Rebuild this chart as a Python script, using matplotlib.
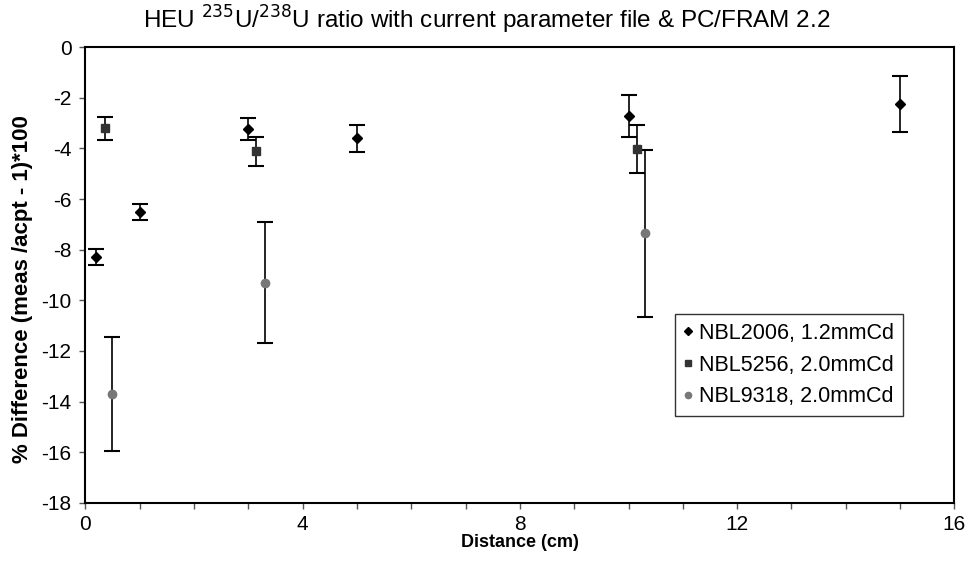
import matplotlib
matplotlib.use("Agg")
import matplotlib.pyplot as plt
from matplotlib.ticker import MultipleLocator

plt.rcParams['font.family'] = ['Liberation Sans', 'DejaVu Sans']
plt.rcParams['axes.unicode_minus'] = False

# NBL2006, 1.2mmCd
x_2006 = [0.2, 1.0, 3.0, 5.0, 10.0, 15.0]
y_2006 = [-8.3, -6.5, -3.25, -3.6, -2.72, -2.25]
e_2006 = [0.32, 0.32, 0.43, 0.53, 0.82, 1.1]

# NBL5256, 2.0mmCd
x_5256 = [0.37, 3.15, 10.15]
y_5256 = [-3.2, -4.12, -4.02]
e_5256 = [0.45, 0.58, 0.94]

# NBL9318, 2.0mmCd
x_9318 = [0.5, 3.3, 10.3]
y_9318 = [-13.7, -9.3, -7.35]
e_9318 = [2.25, 2.4, 3.3]

labels = ['NBL2006, 1.2mmCd', 'NBL5256, 2.0mmCd', 'NBL9318, 2.0mmCd']

fig = plt.figure(figsize=(9.69, 5.67), dpi=100)
ax = fig.add_axes([0.088, 0.113, 0.897, 0.804])

common = dict(linestyle='none', ecolor='black', elinewidth=1.2,
              capsize=6, capthick=1.5)
h1 = ax.errorbar(x_2006, y_2006, yerr=e_2006, marker='D', markersize=5,
                 color='black', **common)
h2 = ax.errorbar(x_5256, y_5256, yerr=e_5256, marker='s', markersize=6,
                 color='#333333', **common)
h3 = ax.errorbar(x_9318, y_9318, yerr=e_9318, marker='o', markersize=6,
                 color='#777777', **common)

ax.set_xlim(0, 16)
ax.set_ylim(-18, 0)
ax.xaxis.set_major_locator(MultipleLocator(4))
ax.xaxis.set_minor_locator(MultipleLocator(1))
ax.yaxis.set_major_locator(MultipleLocator(2))
ax.tick_params(axis='both', which='both', direction='out', labelsize=15,
               width=1, length=4, color='#555555')
ax.tick_params(axis='x', pad=5)
ax.tick_params(axis='y', pad=6)
for s in ax.spines.values():
    s.set_linewidth(1.5)

ax.set_xlabel('Distance (cm)', fontsize=13, weight='bold', labelpad=0)
ax.set_ylabel('% Difference (meas /acpt - 1)*100', fontsize=16,
              weight='bold')
ax.yaxis.set_label_coords(-0.06, 0.47)
fig.suptitle('HEU $^{235}$U/$^{238}$U ratio with current parameter file & PC/FRAM 2.2',
             fontsize=17.5, x=0.502, y=0.993)

leg = ax.legend(handles=[h1[0], h2[0], h3[0]], labels=labels,
                loc='upper left', bbox_to_anchor=(0.678, 0.414), fontsize=15.5,
                frameon=True, fancybox=False, edgecolor='black',
                handlelength=0.4, handletextpad=0.35, borderpad=0.4,
                labelspacing=0.5, markerscale=0.75, borderaxespad=0)
leg.get_frame().set_linewidth(1.0)

fig.savefig('out.png', dpi=100)
